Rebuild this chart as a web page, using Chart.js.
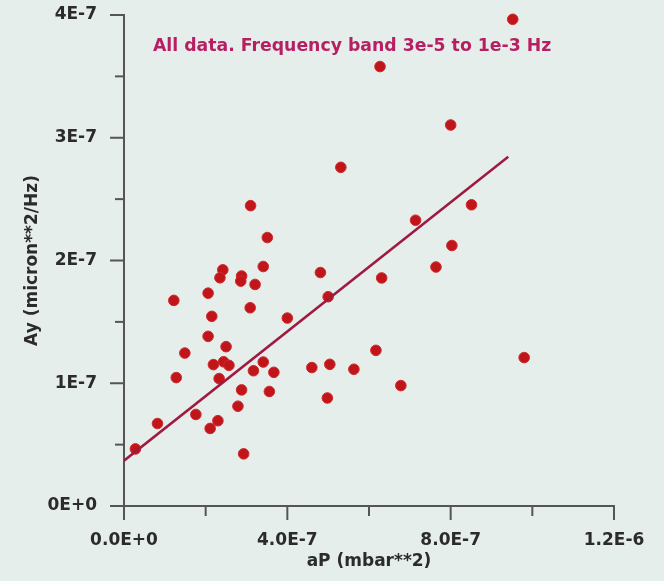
<!DOCTYPE html>
<html>
<head>
<meta charset="utf-8">
<script src="https://cdn.jsdelivr.net/npm/chart.js@4.4.1/dist/chart.umd.min.js"></script>
<style>
  body { margin: 0; background: #e6eeec; }
  #box { width: 664px; height: 581px; }
</style>
</head>
<body>
<div id="box"><canvas id="grafico"></canvas></div>
<script>
// aP (mbar**2) dos pontos
const valoresX = [
  9.52e-7, 6.27e-7, 8.00e-7, 5.31e-7, 3.10e-7, 8.51e-7, 7.14e-7, 3.51e-7, 8.03e-7, 3.41e-7,
  7.64e-7, 2.42e-7, 4.81e-7, 2.35e-7, 2.88e-7, 6.31e-7, 2.86e-7, 3.21e-7, 2.06e-7, 5.00e-7,
  1.22e-7, 3.09e-7, 2.15e-7, 4.00e-7, 2.06e-7, 2.50e-7, 6.17e-7, 1.49e-7, 9.80e-7, 2.19e-7,
  2.44e-7, 2.57e-7, 3.41e-7, 5.04e-7, 4.60e-7, 5.63e-7, 3.17e-7, 3.67e-7, 1.28e-7, 2.33e-7,
  6.78e-7, 2.88e-7, 3.56e-7, 4.98e-7, 2.79e-7, 1.76e-7, 2.30e-7, 2.11e-7, 0.82e-7, 0.28e-7,
  2.93e-7
];
// Ay (micron**2/Hz) dos pontos
const valoresY = [
  3.965e-7, 3.58e-7, 3.104e-7, 2.759e-7, 2.447e-7, 2.454e-7, 2.328e-7, 2.187e-7, 2.122e-7, 1.951e-7,
  1.947e-7, 1.924e-7, 1.902e-7, 1.859e-7, 1.874e-7, 1.858e-7, 1.832e-7, 1.805e-7, 1.734e-7, 1.705e-7,
  1.675e-7, 1.615e-7, 1.545e-7, 1.531e-7, 1.382e-7, 1.298e-7, 1.268e-7, 1.246e-7, 1.209e-7, 1.152e-7,
  1.175e-7, 1.146e-7, 1.173e-7, 1.154e-7, 1.128e-7, 1.114e-7, 1.102e-7, 1.089e-7, 1.046e-7, 1.038e-7,
  0.981e-7, 0.946e-7, 0.933e-7, 0.880e-7, 0.813e-7, 0.746e-7, 0.695e-7, 0.632e-7, 0.672e-7, 0.465e-7,
  0.425e-7
];
// reta de ajuste
const retaX = [0, 9.41e-7];
const retaY = [0.369e-7, 2.846e-7];

const ticksX = [0, 4e-7, 8e-7, 1.2e-6];
const rotulosX = ['0.0E+0', '4.0E-7', '8.0E-7', '1.2E-6'];
const ticksY = [0, 1e-7, 2e-7, 3e-7, 4e-7];
const rotulosY = ['0E+0', '1E-7', '2E-7', '3E-7', '4E-7'];

const titulo = 'All data. Frequency band 3e-5 to 1e-3 Hz';

function rotulo(valor, ticks, rotulos) {
  for (let i = 0; i < ticks.length; i++) {
    if (Math.abs(valor - ticks[i]) < 1e-9) return rotulos[i];
  }
  return '';
}

const pontos = valoresX.map(function (x, i) { return { x: x, y: valoresY[i] }; });
const reta = retaX.map(function (x, i) { return { x: x, y: retaY[i] }; });

const fonte = { family: 'DejaVu Sans', size: 17, weight: 'bold' };

const fundo = {
  id: 'fundo',
  beforeDraw: function (chart) {
    const c = chart.ctx;
    c.save();
    c.fillStyle = '#e6eeec';
    c.fillRect(0, 0, chart.width, chart.height);
    c.restore();
  }
};

// marcas dos eixos (maiores nos rotulos, menores entre eles)
const marcas = {
  id: 'marcas',
  afterDraw: function (chart) {
    const c = chart.ctx;
    const sx = chart.scales.x, sy = chart.scales.y;
    c.save();
    c.strokeStyle = '#555';
    c.lineWidth = 2;
    sx.ticks.forEach(function (t) {
      const px = sx.getPixelForValue(t.value);
      const len = rotulo(t.value, ticksX, rotulosX) ? 14 : 10;
      c.beginPath();
      c.moveTo(px, sx.top);
      c.lineTo(px, sx.top + len);
      c.stroke();
    });
    sy.ticks.forEach(function (t) {
      const py = sy.getPixelForValue(t.value);
      const len = rotulo(t.value, ticksY, rotulosY) ? 14 : 9;
      c.beginPath();
      c.moveTo(sy.right, py);
      c.lineTo(sy.right - len, py);
      c.stroke();
    });
    // texto dentro do grafico
    c.fillStyle = '#b81f62';
    c.font = 'bold 17.3px "DejaVu Sans"';
    c.textAlign = 'left';
    c.textBaseline = 'middle';
    c.fillText(titulo, chart.chartArea.left + 29, chart.chartArea.top + 32);
    c.restore();
  }
};

const ctx = document.getElementById('grafico');

new Chart(ctx, {
  type: 'scatter',
  data: {
    datasets: [{
      label: 'ajuste',
      data: reta,
      showLine: true,
      borderColor: '#9e1a40',
      borderWidth: 2.5,
      pointRadius: 0,
      fill: false
    }, {
      label: 'dados',
      data: pontos,
      backgroundColor: '#bf151b',
      borderColor: '#cf2a2a',
      borderWidth: 1,
      pointRadius: 5.3,
      clip: false
    }]
  },
  options: {
    responsive: true,
    maintainAspectRatio: false,
    animation: false,
    layout: { padding: { top: 15, right: 50, left: 0, bottom: 0 } },
    plugins: {
      legend: { display: false },
      tooltip: { enabled: false }
    },
    scales: {
      x: {
        type: 'linear',
        min: 0,
        max: 1.2e-6,
        afterFit: function (s) {
          s.height = 75;
          s.paddingLeft = 0;
          s.paddingRight = 0;
        },
        border: { display: true, color: '#555', width: 2 },
        grid: { drawOnChartArea: false, tickLength: 14, tickColor: 'rgba(0,0,0,0)' },
        ticks: {
          stepSize: 2e-7,
          autoSkip: false,
          maxRotation: 0,
          padding: 10,
          color: '#2b2b2b',
          font: fonte,
          callback: function (v) { return rotulo(v, ticksX, rotulosX); }
        },
        title: {
          display: true,
          text: 'aP (mbar**2)',
          color: '#2b2b2b',
          font: fonte,
          padding: { top: 0, bottom: 9 }
        }
      },
      y: {
        type: 'linear',
        min: 0,
        max: 4e-7,
        afterFit: function (s) {
          s.width = 124;
          s.paddingTop = 0;
          s.paddingBottom = 0;
        },
        border: { display: true, color: '#555', width: 2 },
        grid: { drawOnChartArea: false, tickLength: 14, tickColor: 'rgba(0,0,0,0)' },
        ticks: {
          stepSize: 0.5e-7,
          autoSkip: false,
          padding: 13,
          color: '#2b2b2b',
          font: fonte,
          callback: function (v) { return rotulo(v, ticksY, rotulosY); }
        },
        title: {
          display: true,
          text: 'Ay (micron**2/Hz)',
          color: '#2b2b2b',
          font: fonte,
          padding: { top: 22, bottom: 0 }
        }
      }
    }
  },
  plugins: [fundo, marcas]
});
</script>
</body>
</html>
